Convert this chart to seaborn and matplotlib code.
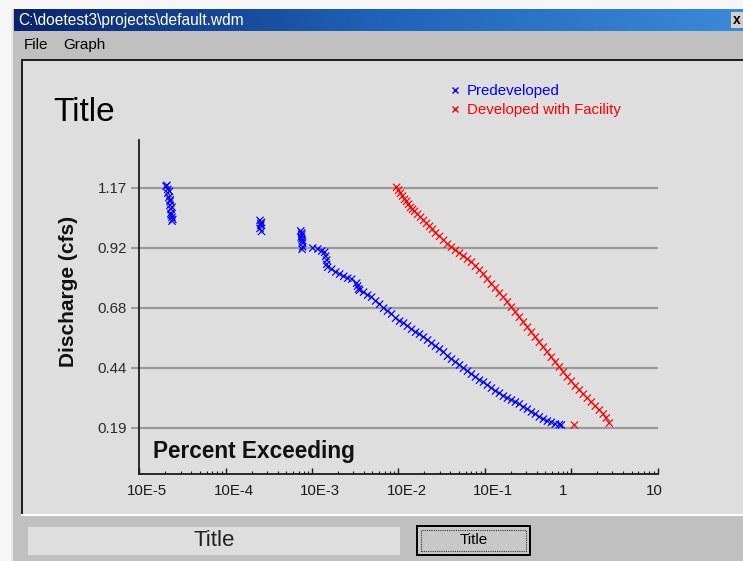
import numpy as np
import pandas as pd
import matplotlib
matplotlib.use("Agg")
import matplotlib.pyplot as plt
from matplotlib.patches import Rectangle
from matplotlib.lines import Line2D
from matplotlib.transforms import ScaledTranslation
from matplotlib.colors import LinearSegmentedColormap
import seaborn as sns

# ---------------- data ----------------
# log10 of percent exceeding, and discharge (cfs)
pre_log_x = [-4.690, -4.680, -4.670, -4.670, -4.658, -4.650, -4.645, -4.645, -4.640, -4.634,
             -4.634, -4.630, -4.621, -4.620, -4.621, -4.612,
             -3.602, -3.585, -3.593, -3.602, -3.585, -3.593,
             -3.131, -3.119, -3.119, -3.125, -3.119, -3.112, -3.108, -3.108, -3.115,
             -2.992, -2.934, -2.888, -2.853, -2.842, -2.830, -2.830, -2.818, -2.772, -2.726,
             -2.680, -2.633, -2.587, -2.541, -2.483, -2.472, -2.460, -2.449, -2.403, -2.356,
             -2.310, -2.264, -2.217, -2.171, -2.125, -2.079, -2.032, -1.986, -1.940, -1.894,
             -1.847, -1.801, -1.755, -1.709, -1.662, -1.616, -1.570, -1.524, -1.477, -1.431,
             -1.385, -1.339, -1.292, -1.246, -1.200, -1.154, -1.107, -1.061, -1.015, -0.969,
             -0.923, -0.876, -0.830, -0.784, -0.738, -0.691, -0.645, -0.599, -0.553, -0.506,
             -0.460, -0.414, -0.368, -0.321, -0.275, -0.229, -0.183, -0.136, -0.113]
pre_y = [1.175, 1.179, 1.163, 1.147, 1.130, 1.155, 1.114, 1.098, 1.120, 1.082,
         1.065, 1.058, 1.049, 1.090, 1.033, 1.040,
         1.036, 1.028, 1.016, 1.003, 0.991, 1.022,
         0.993, 0.985, 0.977, 0.968, 0.960, 0.952, 0.944, 0.928, 0.918,
         0.923, 0.919, 0.911, 0.906, 0.890, 0.874, 0.857, 0.845, 0.837, 0.825,
         0.817, 0.808, 0.800, 0.796, 0.780, 0.768, 0.756, 0.751, 0.743, 0.731,
         0.723, 0.707, 0.694, 0.678, 0.666, 0.654, 0.637, 0.625, 0.617, 0.605,
         0.592, 0.580, 0.572, 0.560, 0.548, 0.535, 0.523, 0.511, 0.499, 0.482,
         0.470, 0.458, 0.446, 0.433, 0.421, 0.409, 0.397, 0.384, 0.376, 0.364,
         0.352, 0.340, 0.331, 0.319, 0.311, 0.303, 0.295, 0.287, 0.274, 0.266,
         0.254, 0.246, 0.234, 0.225, 0.217, 0.212, 0.205, 0.203, 0.201]

dev_log_x = [-2.021, -1.998, -1.975, -1.952, -1.929, -1.905, -1.882, -1.859, -1.836, -1.813,
             -1.778, -1.743, -1.709, -1.674, -1.639, -1.605, -1.570, -1.524, -1.477, -1.431,
             -1.385, -1.339, -1.292, -1.246, -1.200, -1.154, -1.107, -1.061, -1.015, -0.969,
             -0.923, -0.876, -0.830, -0.784, -0.738, -0.691, -0.645, -0.599, -0.553, -0.506,
             -0.460, -0.414, -0.368, -0.321, -0.275, -0.229, -0.183, -0.136, -0.090, -0.044,
             0.002, 0.049, 0.095, 0.141, 0.187, 0.234, 0.280, 0.326, 0.372, 0.407,
             0.442, 0.038]
dev_y = [1.171, 1.159, 1.147, 1.135, 1.122, 1.114, 1.102, 1.089, 1.081, 1.073,
         1.061, 1.049, 1.036, 1.024, 1.012, 1.000, 0.984, 0.971, 0.955, 0.939,
         0.927, 0.914, 0.902, 0.890, 0.878, 0.866, 0.849, 0.833, 0.817, 0.796,
         0.776, 0.760, 0.739, 0.723, 0.703, 0.682, 0.662, 0.641, 0.621, 0.600,
         0.580, 0.560, 0.539, 0.519, 0.499, 0.478, 0.458, 0.438, 0.417, 0.397,
         0.380, 0.360, 0.344, 0.327, 0.311, 0.295, 0.278, 0.262, 0.246, 0.230,
         0.209, 0.201]

series_names = ["Predeveloped", "Developed with Facility"]
series_colors = ["#0000ff", "#ff0000"]

y_ticks = [0.19, 0.435, 0.68, 0.925, 1.17]
y_tick_labels = ["0.19", "0.44", "0.68", "0.92", "1.17"]
x_ticks = [1e-5, 1e-4, 1e-3, 1e-2, 1e-1, 1, 10]
x_tick_labels = ["10E-5", "10E-4", "10E-3", "10E-2", "10E-1", "1", "10"]

df = pd.concat([
    pd.DataFrame({"x": np.power(10.0, pre_log_x), "y": pre_y, "series": series_names[0]}),
    pd.DataFrame({"x": np.power(10.0, dev_log_x), "y": dev_y, "series": series_names[1]}),
], ignore_index=True)

# ---------------- figure ----------------
W, H = 743, 561
plt.rcParams["font.family"] = ["Liberation Sans", "DejaVu Sans"]
fig = plt.figure(figsize=(W / 100, H / 100), dpi=100, facecolor="#f6f6f6")


def rect(x0, y0, x1, y1, color, z=-10, **kw):
    fig.patches.append(Rectangle((x0 / W, 1 - y1 / H), (x1 - x0) / W, (y1 - y0) / H,
                                 transform=fig.transFigure, facecolor=color,
                                 edgecolor="none", zorder=z, **kw))


def ftext(x, y, s, **kw):
    fig.text(x / W, 1 - y / H, s, **kw)


# window body
rect(12, 9, W, H, "#c0c0c0", z=-12)
rect(11, 9, 13, H, "#e8e8e8", z=-11)
# title bar gradient
tb = fig.add_axes([14 / W, 1 - 31 / H, (W - 14) / W, 22 / H], zorder=-5)
grad = np.linspace(0, 1, 256)[None, :]
cm = LinearSegmentedColormap.from_list("tb", ["#0a246a", "#1f63b8", "#3a8ad8"])
tb.imshow(grad, aspect="auto", cmap=cm, extent=[0, 1, 0, 1])
tb.set_axis_off()
ftext(18, 20, r"C:\doetest3\projects\default.wdm", color="white", fontsize=11.2, va="center", ha="left")
# close button
rect(731, 12, W, 28, "#d4d0c8", z=-4)
fig.text(737 / W, 1 - 20 / H, "x", color="black", fontsize=10, fontweight="bold", va="center", ha="center")
# menu
ftext(24, 45, "File", fontsize=11, va="center", ha="left", color="#000000")
ftext(63, 45, "Graph", fontsize=11, va="center", ha="left", color="#000000")
# chart panel
rect(21, 59, W, 516, "#ffffff", z=-9)
rect(21, 59, W, 514, "#202020", z=-8)
rect(23, 61, W, 514, "#dedede", z=-7)
# bottom area
rect(28, 527, 400, 555, "#dedede", z=-9)
ftext(214, 541, "Title", fontsize=16, va="center", ha="center", color="#222222")
rect(416, 525, 531, 556, "#000000", z=-9)
rect(418, 527, 529, 554, "#c8c8c8", z=-8)
fig.patches.append(Rectangle((421 / W, 1 - 551 / H), 105 / W, 21 / H, transform=fig.transFigure,
                             facecolor="none", edgecolor="#333333", lw=0.8, ls=(0, (1, 1)), zorder=-6))
ftext(474, 540, "Title", fontsize=11, va="center", ha="center", color="#000000")

# ---------------- axes ----------------
ax = fig.add_axes([139.3 / W, 1 - 474.3 / H, (657.5 - 139.3) / W, (474.3 - 140) / H])
ax.patch.set_alpha(0)
sns.scatterplot(data=df, x="x", y="y", hue="series", hue_order=series_names,
                palette=series_colors, marker="x", s=27, linewidth=0.85, legend=False, ax=ax, zorder=3)
ax.set_xscale("log")
ax.set_xlim(1e-5, 10)
ax.set_ylim(0, 1.364)
ax.set_xlabel("")
ax.set_ylabel("")

for sp in ["top", "right"]:
    ax.spines[sp].set_visible(False)
for sp in ["left", "bottom"]:
    ax.spines[sp].set_color("#1a1a1a")
    ax.spines[sp].set_linewidth(1.3)

ax.set_yticks(y_ticks)
ax.set_yticklabels(y_tick_labels)
ax.yaxis.grid(True, color="#9a9a9a", linewidth=1.6)
ax.xaxis.grid(False)
ax.set_axisbelow(True)
ax.tick_params(axis="y", direction="out", length=6, width=1.5, color="#9a9a9a",
               labelsize=10.8, labelcolor="#2a2a2a", pad=3)

ax.set_xticks(x_ticks)
ax.set_xticklabels(x_tick_labels)
ax.xaxis.set_minor_locator(matplotlib.ticker.LogLocator(base=10, subs=np.arange(2, 10)))
ax.xaxis.set_minor_formatter(matplotlib.ticker.NullFormatter())
ax.tick_params(axis="x", which="major", direction="in", length=4.5, width=1.0, color="#1a1a1a",
               labelsize=10.8, labelcolor="#1a1a1a", pad=7)
ax.tick_params(axis="x", which="minor", direction="in", length=2.2, width=0.8, color="#1a1a1a")
offset = ScaledTranslation(-12 / 100, 0, fig.dpi_scale_trans)
for lab in ax.get_xticklabels():
    lab.set_horizontalalignment("left")
    lab.set_transform(lab.get_transform() + offset)

# in-chart texts
ftext(53, 121, "Title", fontsize=24, ha="left", va="baseline", color="#000000")
ftext(153, 458, "Percent Exceeding", fontsize=16.3, fontweight="bold", ha="left", va="baseline",
      color="#111111")
ftext(68, 291, "Discharge (cfs)", fontsize=15, fontweight="bold", rotation=90, ha="center",
      va="center", color="#111111")

handles = [Line2D([], [], marker="x", ls="", color=c, markersize=5, markeredgewidth=1.0)
           for c in series_colors]
ax.legend(handles, series_names, loc="upper left", bbox_to_anchor=(451 / W, 1 - 84 / H),
          bbox_transform=fig.transFigure, frameon=False, fontsize=10.8, labelcolor=series_colors,
          handlelength=0.5, handletextpad=0.55, labelspacing=0.35, borderpad=0, borderaxespad=0)

fig.savefig("out.png", dpi=100, facecolor=fig.get_facecolor())
